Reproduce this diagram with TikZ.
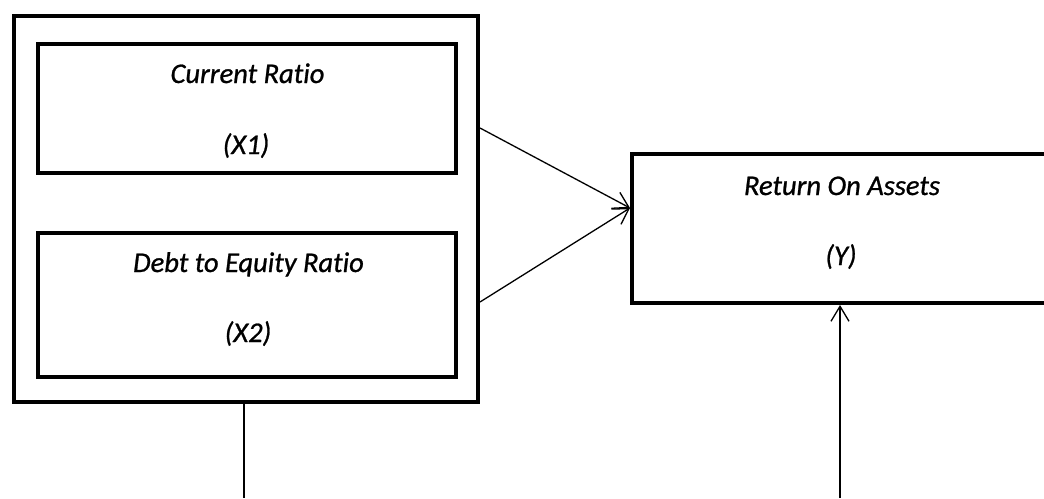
\documentclass[tikz,border=0pt]{standalone}
\usepackage{fontspec}
\setmainfont{Carlito}
\newfontfamily\labelfont{Carlito}[Ligatures=NoCommon, ItalicFeatures={FakeBold=0.9}]
\usetikzlibrary{arrows.meta}
\tikzset{
  frame/.style={draw, line width=4pt, rectangle, inner sep=0pt, fill=none},
  label/.style={anchor=base, inner sep=0pt, font=\labelfont\fontsize{28.5}{34}\selectfont\itshape},
  link/.style={line width=1.3pt, -{Straight Barb[length=15pt,width=18pt,line width=1.3pt]}},
  plain/.style={line width=1.5pt},
}
\begin{document}
\begin{tikzpicture}[x=1pt,y=-1pt]
  \useasboundingbox (0,0) rectangle (1044,498);
  \clip (0,0) rectangle (1044,498);

  % independent variables group
  \node[frame, minimum width=464pt, minimum height=386pt] (outer) at (246,209) {};
  \node[frame, minimum width=418pt, minimum height=129pt] (cr) at (247,108.5) {};
  \node[frame, minimum width=418pt, minimum height=144pt] (der) at (247,305) {};

  % dependent variable
  \node[frame, minimum width=420pt, minimum height=149pt] (roa) at (842,228.5) {};

  % labels
  \node[label] (crname) at (247.5,83) {Current Ratio};
  \node[label] (crvar) at (246,154) {(X1)};
  \node[label] (dername) at (248.5,272) {Debt to Equity Ratio};
  \node[label] (dervar) at (248,342) {(X2)};
  \node[label] (roaname) at (842,195) {Return On Assets};
  \node[label] (roavar) at (841,265) {(Y)};

  % partial effects
  \draw[link] ([yshift=81pt]outer.east) -- ([yshift=20.5pt]roa.west);
  \draw[link] ([yshift=-93pt]outer.east) -- ([yshift=20.5pt]roa.west);

  % simultaneous effect
  \coordinate (downend) at (244,498);
  \coordinate (upstart) at (840,498);
  \draw[plain] ([xshift=-2pt]outer.south) -- (downend);
  \draw[link, line width=1.5pt] (upstart) -- ([xshift=-2pt]roa.south);
\end{tikzpicture}
\end{document}
